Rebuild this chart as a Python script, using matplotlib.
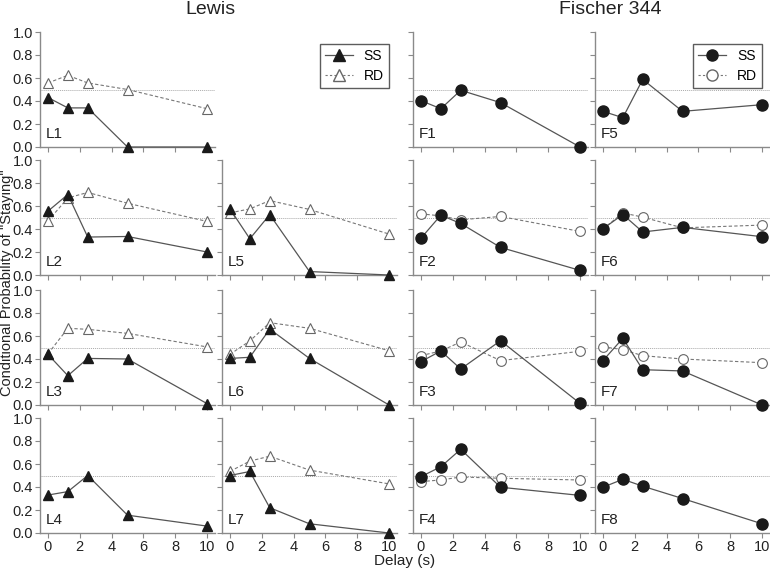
import matplotlib
matplotlib.use("Agg")
import matplotlib.pyplot as plt
from matplotlib.lines import Line2D

plt.rcParams['font.family'] = ['Liberation Sans', 'DejaVu Sans']

delays = [0, 1.25, 2.5, 5, 10]

# Lewis rats: SS and RD conditional probabilities
lewis_ss = {
    'L1': [0.43, 0.34, 0.34, 0.0, 0.0],
    'L2': [0.555, 0.70, 0.33, 0.335, 0.20],
    'L3': [0.44, 0.255, 0.405, 0.40, 0.012],
    'L4': [0.33, 0.36, 0.50, 0.155, 0.06],
    'L5': [0.575, 0.315, 0.525, 0.03, 0.0],
    'L6': [0.405, 0.415, 0.66, 0.405, 0.0],
    'L7': [0.50, 0.535, 0.22, 0.08, 0.0],
}
lewis_rd = {
    'L1': [0.557, 0.623, 0.557, 0.50, 0.333],
    'L2': [0.47, 0.67, 0.718, 0.624, 0.466],
    'L3': [0.445, 0.667, 0.658, 0.623, 0.505],
    'L4': None,
    'L5': [0.54, 0.575, 0.647, 0.57, 0.356],
    'L6': [0.44, 0.557, 0.716, 0.667, 0.472],
    'L7': [0.536, 0.625, 0.668, 0.547, 0.427],
}

# Fischer 344 rats
f344_ss = {
    'F1': [0.403, 0.333, 0.493, 0.386, 0.0],
    'F2': [0.32, 0.52, 0.448, 0.24, 0.04],
    'F3': [0.377, 0.47, 0.313, 0.559, 0.014],
    'F4': [0.49, 0.576, 0.728, 0.398, 0.327],
    'F5': [0.31, 0.255, 0.588, 0.31, 0.368],
    'F6': [0.402, 0.526, 0.374, 0.414, 0.333],
    'F7': [0.386, 0.58, 0.307, 0.296, 0.0],
    'F8': [0.398, 0.467, 0.407, 0.30, 0.08],
}
f344_rd = {
    'F1': None,
    'F2': [0.532, 0.514, 0.48, 0.509, 0.379],
    'F3': [0.429, 0.47, 0.548, 0.386, 0.467],
    'F4': [0.447, 0.461, 0.487, 0.476, 0.461],
    'F5': None,
    'F6': [0.40, 0.54, 0.503, 0.41, 0.434],
    'F7': [0.507, 0.481, 0.429, 0.40, 0.368],
    'F8': None,
}

# grid placement: (row, col) for every panel
layout = {
    'L1': (0, 0), 'L2': (1, 0), 'L3': (2, 0), 'L4': (3, 0),
    'L5': (1, 1), 'L6': (2, 1), 'L7': (3, 1),
    'F1': (0, 2), 'F2': (1, 2), 'F3': (2, 2), 'F4': (3, 2),
    'F5': (0, 3), 'F6': (1, 3), 'F7': (2, 3), 'F8': (3, 3),
}

W, H = 770, 572
col_left = [40, 222, 413, 595]
row_top = [32, 160, 290, 418]
ax_w, ax_h = 175, 115

spine_col = '#8a8a8a'
line_col = '#555555'

fig = plt.figure(figsize=(W / 100, H / 100), dpi=100)
axes = {}

for name, (r, c) in layout.items():
    left = col_left[c] / W
    bottom = 1 - (row_top[r] + ax_h) / H
    ax = fig.add_axes([left, bottom, ax_w / W, ax_h / H])
    axes[name] = ax

    is_lewis = name.startswith('L')
    mk = '^' if is_lewis else 'o'
    ss = lewis_ss[name] if is_lewis else f344_ss[name]
    rd = lewis_rd[name] if is_lewis else f344_rd[name]

    ax.axhline(0.5, color='#aaaaaa', lw=0.7, ls=(0, (1, 1)), zorder=1)
    if rd is not None:
        ax.plot(delays, rd, color='#777777', lw=0.8, ls=(0, (3, 2)),
                marker=mk, ms=7, mfc='white', mec='#666666',
                mew=0.8, clip_on=False, zorder=3)
    ax.plot(delays, ss, color=line_col, lw=0.9, marker=mk,
            ms=7 if is_lewis else 8, mfc='#1a1a1a', mec='#1a1a1a',
            clip_on=False, zorder=4)

    ax.set_xlim(-0.5, 10.5)
    ax.set_ylim(0, 1)
    ax.set_xticks([0, 2, 4, 6, 8, 10])
    ax.set_yticks([0, 0.2, 0.4, 0.6, 0.8, 1.0])
    ax.spines['top'].set_visible(False)
    ax.spines['right'].set_visible(False)
    for s in ('left', 'bottom'):
        ax.spines[s].set_color(spine_col)
        ax.spines[s].set_linewidth(1.0)
    ax.tick_params(direction='out', length=3.5, width=0.8, color=spine_col,
                   labelsize=10.5, labelcolor='#222222', pad=1.5)
    if c != 0:
        ax.set_yticklabels([])
    else:
        ax.set_yticklabels(['0.0', '0.2', '0.4', '0.6', '0.8', '1.0'])
    if r != 3:
        ax.set_xticklabels([])
    ax.text(-0.15, 0.055, name, fontsize=11, color='#222222', ha='left', va='bottom')

# legends
lw_handles = [
    Line2D([], [], color=line_col, lw=0.9, marker='^', ms=8, mfc='#1a1a1a', mec='#1a1a1a'),
    Line2D([], [], color='#777777', lw=0.8, ls=(0, (2, 2)), marker='^', ms=8, mfc='white', mec='#666666'),
]
fig.legend(lw_handles, ['SS', 'RD'], loc='upper left',
           bbox_to_anchor=(313 / W, 1 - 37 / H), fontsize=10, frameon=True,
           fancybox=False, edgecolor='#333333', handlelength=2.0,
           borderpad=0.35, labelspacing=0.45, handletextpad=0.8)

f_handles = [
    Line2D([], [], color=line_col, lw=0.9, marker='o', ms=8, mfc='#1a1a1a', mec='#1a1a1a'),
    Line2D([], [], color='#777777', lw=0.8, ls=(0, (2, 2)), marker='o', ms=8, mfc='white', mec='#666666'),
]
fig.legend(f_handles, ['SS', 'RD'], loc='upper right',
           bbox_to_anchor=(769 / W, 1 - 37 / H), fontsize=10, frameon=True,
           fancybox=False, edgecolor='#333333', handlelength=2.0,
           borderpad=0.35, labelspacing=0.45, handletextpad=0.8)
for lg in fig.legends:
    lg.get_frame().set_linewidth(1.0)

fig.text(210 / W, 1 - 10 / H, 'Lewis', fontsize=14, ha='center', va='center', color='#222222')
fig.text(610 / W, 1 - 10 / H, 'Fischer 344', fontsize=14, ha='center', va='center', color='#222222')
fig.text(7 / W, 1 - 283 / H, 'Conditional Probability of "Staying"', rotation=90,
         fontsize=10.5, ha='center', va='center', color='#222222')
fig.text(405 / W, 1 - 561 / H, 'Delay (s)', fontsize=11, ha='center', va='center', color='#222222')

fig.savefig('out.png', dpi=100)
